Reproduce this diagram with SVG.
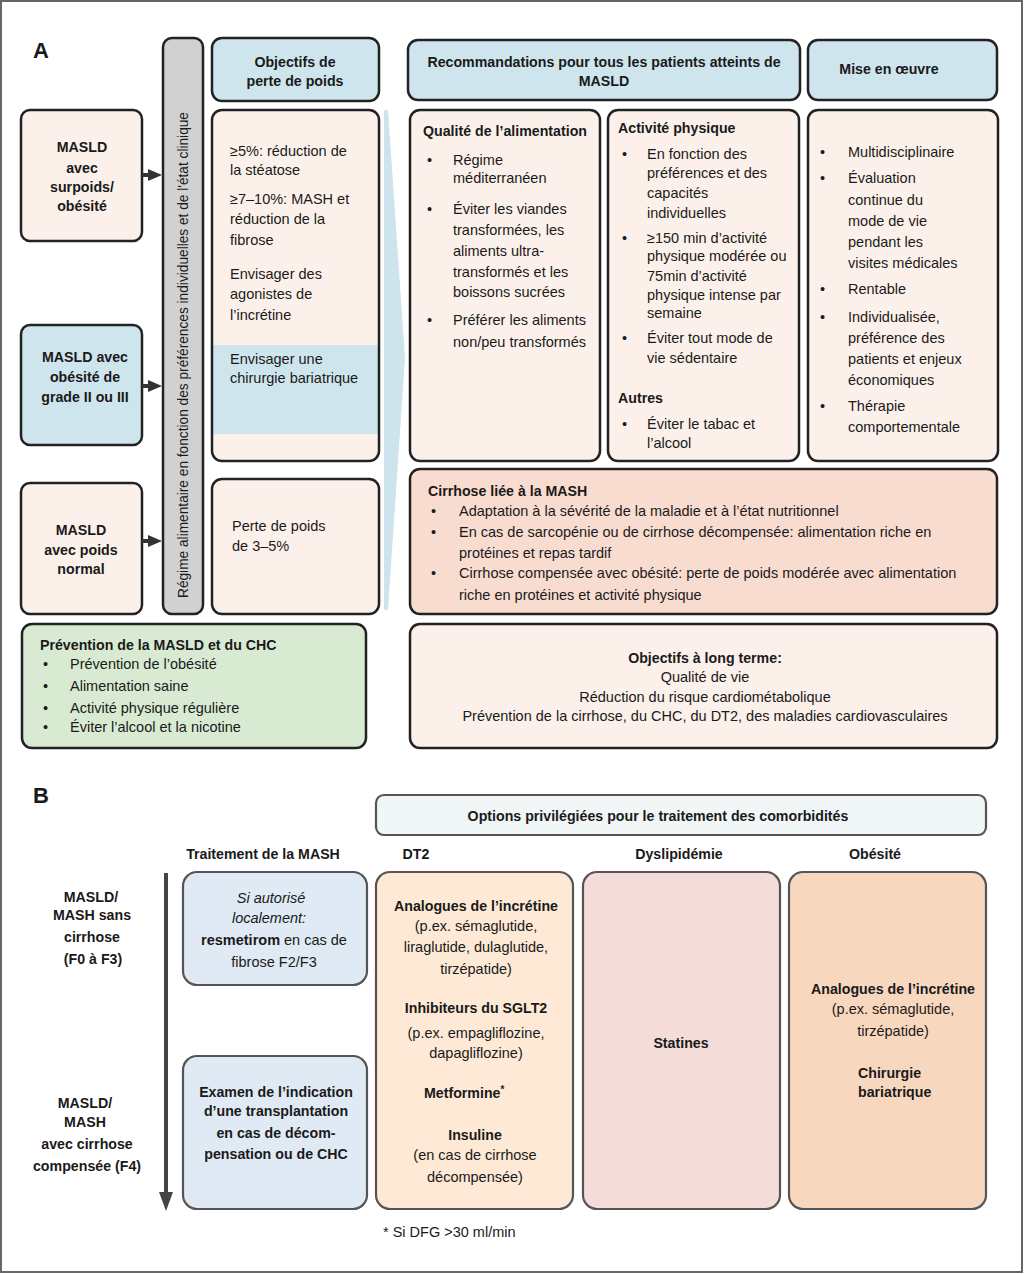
<svg xmlns="http://www.w3.org/2000/svg" width="1024" height="1274" viewBox="0 0 1024 1274">
<style>
text{font-family:"Liberation Sans",Arial,sans-serif;font-size:14.5px;fill:#1a1a1a}
.b{font-weight:bold;font-size:14.2px}
.c{text-anchor:middle}
.i{font-style:italic}
.lbl{font-weight:bold;font-size:22px}
.ba{stroke:#222;stroke-width:2.5}
.bb{stroke:#555;stroke-width:2.2}
.peach{fill:#fcf1ea}
.blue{fill:#cfe5ed}
</style>
<rect x="1" y="1" width="1021" height="1271" fill="#fff" stroke="#666" stroke-width="2"/>
<text x="33" y="58" class="lbl">A</text>
<text x="33" y="803" class="lbl">B</text>

<polygon points="384,110 388,110 405,358 388,610 384,610" fill="#cde4ec"/>

<g id="masld-surpoids">
<rect x="21" y="110" width="121" height="131" rx="9" class="ba peach"/>
<text x="82" y="152" class="b c">MASLD</text>
<text x="82" y="173" class="b c">avec</text>
<text x="82" y="192" class="b c">surpoids/</text>
<text x="82" y="211" class="b c">obésité</text>
</g>
<g id="masld-obesite">
<rect x="21" y="325" width="121" height="120" rx="9" class="ba blue"/>
<text x="85" y="362" class="b c">MASLD avec</text>
<text x="85" y="382" class="b c">obésité de</text>
<text x="85" y="402" class="b c">grade II ou III</text>
</g>
<g id="masld-normal">
<rect x="21" y="483" width="121" height="131" rx="9" class="ba peach"/>
<text x="81" y="535" class="b c">MASLD</text>
<text x="81" y="555" class="b c">avec poids</text>
<text x="81" y="574" class="b c">normal</text>
</g>

<g id="regime-bar">
<rect x="163" y="38" width="40" height="576" rx="9" class="ba" fill="#d1d1d1"/>
<text transform="translate(188,355) rotate(-90)" class="c" font-size="14" textLength="486" lengthAdjust="spacingAndGlyphs">Régime alimentaire en fonction des préférences individuelles et de l'état clinique</text>
</g>

<g id="objectifs-header">
<rect x="212" y="38" width="167" height="63" rx="10" class="ba blue"/>
<text x="295" y="67" class="b c">Objectifs de</text>
<text x="295" y="86" class="b c">perte de poids</text>
</g>
<g id="objectifs-perte">
<rect x="212" y="110" width="167" height="351" rx="10" class="peach"/>
<rect x="213" y="345" width="165" height="89" class="blue"/>
<rect x="212" y="110" width="167" height="351" rx="10" class="ba" fill="none"/>
<text x="230" y="156">≥5%: réduction de</text>
<text x="230" y="175">la stéatose</text>
<text x="230" y="204">≥7–10%: MASH et</text>
<text x="230" y="224">réduction de la</text>
<text x="230" y="245">fibrose</text>
<text x="230" y="279">Envisager des</text>
<text x="230" y="299">agonistes de</text>
<text x="230" y="320">l’incrétine</text>
<text x="230" y="364">Envisager une</text>
<text x="230" y="383">chirurgie bariatrique</text>
</g>
<g id="objectifs-normal">
<rect x="212" y="479" width="167" height="135" rx="10" class="ba peach"/>
<text x="232" y="531">Perte de poids</text>
<text x="232" y="551">de 3–5%</text>
</g>

<g id="reco-header">
<rect x="408" y="40" width="392" height="60" rx="10" class="ba blue"/>
<text x="604" y="67" class="b c">Recommandations pour tous les patients atteints de</text>
<text x="604" y="86" class="b c">MASLD</text>
</g>
<g id="mise-header">
<rect x="808" y="40" width="189" height="60" rx="10" class="ba blue"/>
<text x="889" y="74" class="b c">Mise en œuvre</text>
</g>

<g id="qualite">
<rect x="410" y="110" width="190" height="351" rx="10" class="ba peach"/>
<text x="423" y="136" class="b">Qualité de l’alimentation</text>
<text x="427" y="165">•</text><text x="453" y="165">Régime</text>
<text x="453" y="183">méditerranéen</text>
<text x="427" y="214">•</text><text x="453" y="214">Éviter les viandes</text>
<text x="453" y="235">transformées, les</text>
<text x="453" y="256">aliments ultra-</text>
<text x="453" y="277">transformés et les</text>
<text x="453" y="297">boissons sucrées</text>
<text x="427" y="325">•</text><text x="453" y="325">Préférer les aliments</text>
<text x="453" y="347">non/peu transformés</text>
</g>

<g id="activite">
<rect x="608" y="110" width="191" height="351" rx="10" class="ba peach"/>
<text x="618" y="133" class="b">Activité physique</text>
<text x="622" y="159">•</text><text x="647" y="159">En fonction des</text>
<text x="647" y="178">préférences et des</text>
<text x="647" y="198">capacités</text>
<text x="647" y="218">individuelles</text>
<text x="622" y="243">•</text><text x="647" y="243">≥150 min d’activité</text>
<text x="647" y="261">physique modérée ou</text>
<text x="647" y="281">75min d’activité</text>
<text x="647" y="300">physique intense par</text>
<text x="647" y="318">semaine</text>
<text x="622" y="343">•</text><text x="647" y="343">Éviter tout mode de</text>
<text x="647" y="363">vie sédentaire</text>
<text x="618" y="403" class="b">Autres</text>
<text x="622" y="429">•</text><text x="647" y="429">Éviter le tabac et</text>
<text x="647" y="448">l’alcool</text>
</g>

<g id="mise">
<rect x="808" y="110" width="190" height="351" rx="10" class="ba peach"/>
<text x="820" y="157">•</text><text x="848" y="157">Multidisciplinaire</text>
<text x="820" y="183">•</text><text x="848" y="183">Évaluation</text>
<text x="848" y="205">continue du</text>
<text x="848" y="226">mode de vie</text>
<text x="848" y="247">pendant les</text>
<text x="848" y="268">visites médicales</text>
<text x="820" y="294">•</text><text x="848" y="294">Rentable</text>
<text x="820" y="322">•</text><text x="848" y="322">Individualisée,</text>
<text x="848" y="343">préférence des</text>
<text x="848" y="364">patients et enjeux</text>
<text x="848" y="385">économiques</text>
<text x="820" y="411">•</text><text x="848" y="411">Thérapie</text>
<text x="848" y="432">comportementale</text>
</g>

<g id="cirrhose">
<rect x="410" y="469" width="587" height="145" rx="10" class="ba" fill="#f9dcd0"/>
<text x="428" y="496" class="b">Cirrhose liée à la MASH</text>
<text x="431" y="516">•</text><text x="459" y="516">Adaptation à la sévérité de la maladie et à l’état nutritionnel</text>
<text x="431" y="537">•</text><text x="459" y="537">En cas de sarcopénie ou de cirrhose décompensée: alimentation riche en</text>
<text x="459" y="558">protéines et repas tardif</text>
<text x="431" y="578">•</text><text x="459" y="578">Cirrhose compensée avec obésité: perte de poids modérée avec alimentation</text>
<text x="459" y="600">riche en protéines et activité physique</text>
</g>

<g id="prevention">
<rect x="22" y="624" width="344" height="124" rx="10" class="ba" fill="#d9ead2"/>
<text x="40" y="650" class="b">Prévention de la MASLD et du CHC</text>
<text x="43" y="669">•</text><text x="70" y="669">Prévention de l’obésité</text>
<text x="43" y="691">•</text><text x="70" y="691">Alimentation saine</text>
<text x="43" y="713">•</text><text x="70" y="713">Activité physique régulière</text>
<text x="43" y="732">•</text><text x="70" y="732">Éviter l’alcool et la nicotine</text>
</g>

<g id="long-terme">
<rect x="410" y="624" width="587" height="124" rx="10" class="ba peach"/>
<text x="705" y="663" class="b c">Objectifs à long terme:</text>
<text x="705" y="682" class="c">Qualité de vie</text>
<text x="705" y="702" class="c">Réduction du risque cardiométabolique</text>
<text x="705" y="721" class="c">Prévention de la cirrhose, du CHC, du DT2, des maladies cardiovasculaires</text>
</g>

<g id="connectors">
<path d="M142,175 H150 M142,386 H150 M142,541 H150" stroke="#333" stroke-width="4" fill="none"/>
<polygon points="148,169 162,175 148,181" fill="#333"/>
<polygon points="148,380 162,386 148,392" fill="#333"/>
<polygon points="148,535 162,541 148,547" fill="#333"/>
<line x1="166" y1="873" x2="166" y2="1194" stroke="#444" stroke-width="4"/>
<polygon points="159,1192 173,1192 166,1211" fill="#444"/>
</g>

<g id="options-header">
<rect x="376" y="795" width="610" height="40" rx="8" class="bb" fill="#f1f6f7"/>
<text x="658" y="821" class="b c">Options privilégiées pour le traitement des comorbidités</text>
</g>

<g id="col-headers">
<text x="263" y="859" class="b c">Traitement de la MASH</text>
<text x="416" y="859" class="b c">DT2</text>
<text x="679" y="859" class="b c">Dyslipidémie</text>
<text x="875" y="859" class="b c">Obésité</text>
</g>

<g id="stage-labels">
<text x="91" y="902" class="b c">MASLD/</text>
<text x="92" y="920" class="b c">MASH sans</text>
<text x="92" y="942" class="b c">cirrhose</text>
<text x="93" y="964" class="b c">(F0 à F3)</text>
<text x="85" y="1108" class="b c">MASLD/</text>
<text x="85" y="1127" class="b c">MASH</text>
<text x="87" y="1149" class="b c">avec cirrhose</text>
<text x="87" y="1171" class="b c">compensée (F4)</text>
</g>

<g id="mash-sans-cirrhose">
<rect x="183" y="872" width="184" height="113" rx="14" class="bb" fill="#dfeaf4"/>
<text x="271" y="903" class="c i">Si autorisé</text>
<text x="269" y="923" class="c i">localement:</text>
<text x="274" y="945" class="c"><tspan font-weight="bold">resmetirom</tspan> en cas de</text>
<text x="274" y="967" class="c">fibrose F2/F3</text>
</g>
<g id="mash-cirrhose">
<rect x="183" y="1056" width="184" height="153" rx="14" class="bb" fill="#dfeaf4"/>
<text x="276" y="1097" class="b c">Examen de l’indication</text>
<text x="276" y="1116" class="b c">d’une transplantation</text>
<text x="276" y="1138" class="b c">en cas de décom-</text>
<text x="276" y="1159" class="b c">pensation ou de CHC</text>
</g>

<g id="dt2">
<rect x="376" y="872" width="197" height="337" rx="14" class="bb" fill="#fde9d5"/>
<text x="476" y="911" class="b c">Analogues de l’incrétine</text>
<text x="476" y="931" class="c">(p.ex. sémaglutide,</text>
<text x="476" y="952" class="c">liraglutide, dulaglutide,</text>
<text x="476" y="974" class="c">tirzépatide)</text>
<text x="476" y="1013" class="b c">Inhibiteurs du SGLT2</text>
<text x="476" y="1038" class="c">(p.ex. empagliflozine,</text>
<text x="476" y="1058" class="c">dapagliflozine)</text>
<text x="424" y="1098" class="b">Metformine<tspan font-size="10" dy="-5">*</tspan></text>
<text x="475" y="1140" class="b c">Insuline</text>
<text x="475" y="1160" class="c">(en cas de cirrhose</text>
<text x="475" y="1182" class="c">décompensée)</text>
</g>

<g id="dyslipidemie">
<rect x="583" y="872" width="197" height="337" rx="14" class="bb" fill="#f4ddd9"/>
<text x="681" y="1048" class="b c">Statines</text>
</g>

<g id="obesite">
<rect x="789" y="872" width="197" height="337" rx="14" class="bb" fill="#f8d7bf"/>
<text x="893" y="994" class="b c">Analogues de l’incrétine</text>
<text x="893" y="1014" class="c">(p.ex. sémaglutide,</text>
<text x="893" y="1036" class="c">tirzépatide)</text>
<text x="858" y="1078" class="b">Chirurgie</text>
<text x="858" y="1097" class="b">bariatrique</text>
</g>

<text x="383" y="1237" font-size="13.5">* Si DFG &gt;30 ml/min</text>
</svg>
